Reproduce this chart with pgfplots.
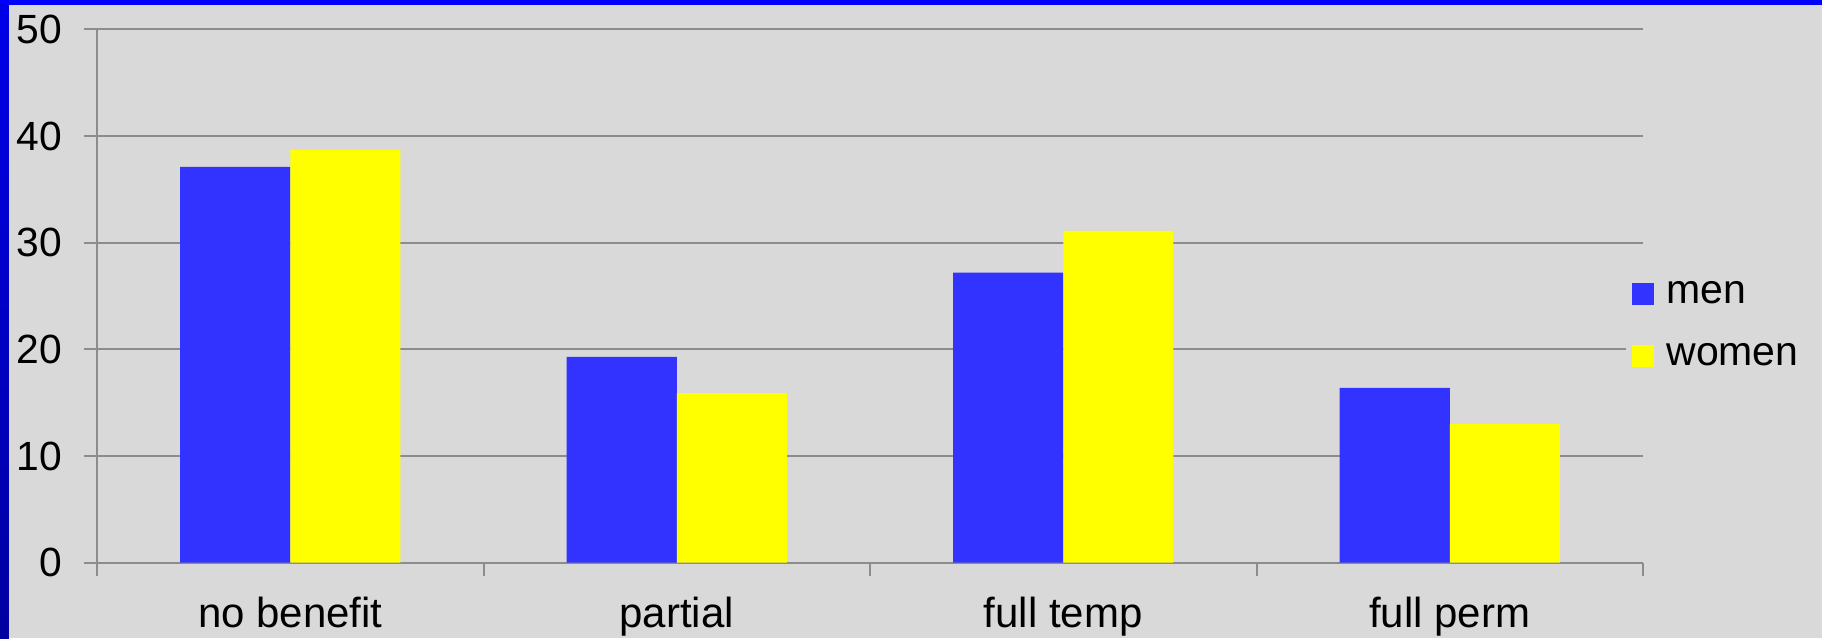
\documentclass[border=0pt]{standalone}
\usepackage{pgfplots}
\pgfplotsset{compat=1.18}
\usepackage{fontspec}
\setmainfont{Liberation Sans}
\definecolor{bg}{HTML}{D9D9D9}
\definecolor{gridc}{HTML}{8C8C8C}
\definecolor{menc}{HTML}{3333FF}
\definecolor{womenc}{HTML}{FFFF00}
\definecolor{topblue}{HTML}{0000FF}
\definecolor{lefttop}{HTML}{0000E8}
\definecolor{leftbot}{HTML}{0000A0}
\pgfplotsset{sqlegend/.style={legend image code/.code={\fill[##1] (0pt,-5.5pt) rectangle (11pt,5.5pt);}}}
\begin{document}
\begin{tikzpicture}
\fill[bg] (-48.5pt,-37.65pt) rectangle (862.5pt,281.35pt);
\fill[topblue] (-48.5pt,278.85pt) rectangle (862.5pt,281.35pt);
\shade[top color=lefttop, bottom color=leftbot] (-48.5pt,-37.65pt) rectangle (-44pt,278.85pt);
\begin{axis}[
 at={(0pt,0pt)}, anchor=south west,
 scale only axis, width=773pt, height=266.65pt,
 ybar=0pt, bar width=0.285,
 xmin=-0.5, xmax=3.5, ymin=0, ymax=50,
 axis lines*=left,
 xtick={-0.5,0.5,1.5,2.5,3.5}, x tick label as interval,
 xticklabels={no benefit,partial,full temp,full perm},
 ytick={0,10,...,50},
 /pgf/number format/assume math mode=true,
 ymajorgrids, grid style={gridc, line width=1pt},
 axis line style={gridc, line width=1pt},
 tick style={gridc, line width=1pt},
 tick align=outside, major tick length=6.5pt,
 xticklabel style={font=\fontsize{21}{25}\selectfont, text=black, yshift=-7pt},
 yticklabel style={font=\fontsize{20.4}{24}\selectfont, text=black, xshift=-7.5pt},
 legend style={at={(0.989,0.445)}, anchor=west, fill=bg, draw=none,
   font=\fontsize{20.5}{25}\selectfont, row sep=14.5pt,
   /tikz/every odd column/.append style={column sep=4pt}},
 legend cell align=left,
]
\addplot[fill=menc, draw=none, sqlegend] coordinates {(0,37.1) (1,19.3) (2,27.2) (3,16.4)};
\addplot[fill=womenc, draw=none, sqlegend] coordinates {(0,38.7) (1,15.9) (2,31.1) (3,13.0)};
\legend{men,women}
\end{axis}
\pgfresetboundingbox
\useasboundingbox (-48.5pt,-37.65pt) rectangle (862.5pt,281.35pt);
\end{tikzpicture}
\end{document}
